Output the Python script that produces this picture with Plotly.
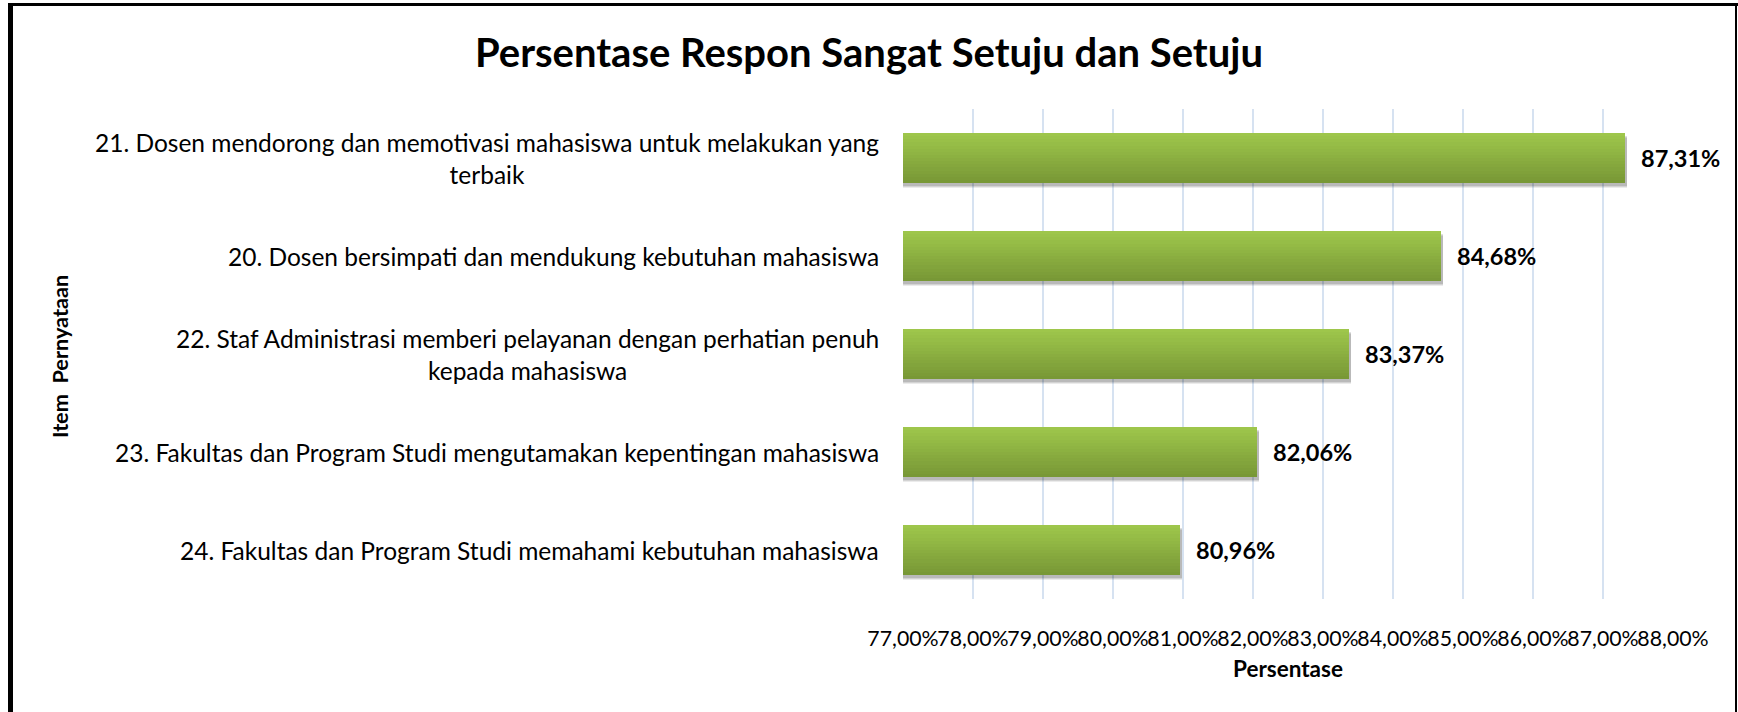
import plotly.graph_objects as go

# ---- data (bottom to top) ----
items = [
    "24. Fakultas dan Program Studi memahami kebutuhan mahasiswa",
    "23. Fakultas dan Program Studi mengutamakan kepentingan mahasiswa",
    "22. Staf Administrasi memberi pelayanan dengan perhatian penuh<br>kepada mahasiswa",
    "20. Dosen bersimpati dan mendukung kebutuhan mahasiswa",
    "21. Dosen mendorong dan memotivasi mahasiswa untuk melakukan yang<br>terbaik",
]
values = [80.96, 82.06, 83.37, 84.68, 87.31]
value_labels = ["80,96%", "82,06%", "83,37%", "84,68%", "87,31%"]
tick_vals = [77, 78, 79, 80, 81, 82, 83, 84, 85, 86, 87, 88]
tick_text = ["77,00%", "78,00%", "79,00%", "80,00%", "81,00%", "82,00%",
             "83,00%", "84,00%", "85,00%", "86,00%", "87,00%", "88,00%"]
title_text = "Persentase Respon Sangat Setuju dan Setuju"
x_title = "Persentase"
y_title = "Item  Pernyataan"

W, H = 1738, 712
L, R, T, B = 903, 65, 109, 113
PW, PH = W - L - R, H - T - B
FONT = "Lato"
AXIS_MIN = 77

cats = list(range(len(items)))
fig = go.Figure()

bar_w = 0.51
# soft shadow below bars
for dy, a in [(0.05, 0.08), (0.04, 0.10), (0.03, 0.12)]:
    fig.add_trace(go.Bar(
        x=[v - AXIS_MIN + 0.03 for v in values], y=cats, base=AXIS_MIN, orientation="h",
        width=bar_w, offset=-bar_w / 2 - dy,
        marker=dict(color=f"rgba(0,0,0,{a})", line=dict(width=0)),
        hoverinfo="skip", showlegend=False,
    ))

# gradient bar built from slices
N = 16
c_bot = (120, 152, 54)
c_top = (158, 198, 75)
for i in range(N):
    t = i / (N - 1)
    col = tuple(round(c_bot[k] + (c_top[k] - c_bot[k]) * t) for k in range(3))
    fig.add_trace(go.Bar(
        x=[v - AXIS_MIN for v in values], y=cats, base=AXIS_MIN, orientation="h",
        width=bar_w / N + 0.003, offset=-bar_w / 2 + i * bar_w / N,
        marker=dict(color="rgb(%d,%d,%d)" % col, line=dict(width=0)),
        hoverinfo="skip", showlegend=False,
    ))

# category labels
for c, txt in zip(cats, items):
    fig.add_annotation(x=0, xref="paper", y=c, yref="y", text=txt,
                       xanchor="right", yanchor="middle", align="center",
                       xshift=-22, showarrow=False,
                       font=dict(family=FONT, size=24.5, color="#000"))
# value labels
for c, v, lab in zip(cats, values, value_labels):
    fig.add_annotation(x=v, xref="x", y=c, yref="y", text="<b>%s</b>" % lab,
                       xanchor="left", yanchor="middle", xshift=14, showarrow=False,
                       font=dict(family=FONT, size=23.5, color="#000"))

def px_x(p):
    return (p - L) / PW
def px_y(p):
    return (PH - (p - T)) / PH

# axis titles
fig.add_annotation(x=0.5, xref="paper", y=px_y(668), yref="paper",
                   text="<b>%s</b>" % x_title, showarrow=False,
                   xanchor="center", yanchor="middle",
                   font=dict(family=FONT, size=22.5, color="#000"))
fig.add_annotation(x=px_x(60), xref="paper", y=px_y(356), yref="paper",
                   text="<b>%s</b>" % y_title, showarrow=False, textangle=-90,
                   xanchor="center", yanchor="middle",
                   font=dict(family=FONT, size=21.7, color="#000"))

# outer border
fig.add_shape(type="rect", xref="paper", yref="paper",
              x0=px_x(8), x1=px_x(13), y0=px_y(H + 5), y1=px_y(3),
              fillcolor="#000", line=dict(width=0), layer="above")
fig.add_shape(type="rect", xref="paper", yref="paper",
              x0=px_x(8), x1=px_x(1738), y0=px_y(6), y1=px_y(3),
              fillcolor="#000", line=dict(width=0), layer="above")
fig.add_shape(type="rect", xref="paper", yref="paper",
              x0=px_x(1735), x1=px_x(1737), y0=px_y(H + 5), y1=px_y(3),
              fillcolor="#000", line=dict(width=0), layer="above")

fig.update_layout(
    width=W, height=H,
    margin=dict(l=L, r=R, t=T, b=B, pad=0),
    paper_bgcolor="white", plot_bgcolor="white",
    barmode="overlay", bargap=0,
    showlegend=False,
    title=dict(text="<b>%s</b>" % title_text, x=869 / W, xref="container", xanchor="center",
               y=1 - 53 / H, yref="container", yanchor="middle",
               font=dict(family=FONT, size=40, color="#000")),
    xaxis=dict(range=[77, 88], tickvals=tick_vals, ticktext=tick_text,
               showgrid=True, gridcolor="#D6E2F1", gridwidth=2,
               zeroline=False, showline=False, ticks="",
               tickangle=0, ticklabelstandoff=25,
               tickfont=dict(family=FONT, size=21.3, color="#000")),
    yaxis=dict(range=[-0.5, len(items) - 0.5], showticklabels=False,
               showgrid=False, zeroline=False, showline=False, ticks=""),
    font=dict(family=FONT),
)

fig.write_html("out.html")
